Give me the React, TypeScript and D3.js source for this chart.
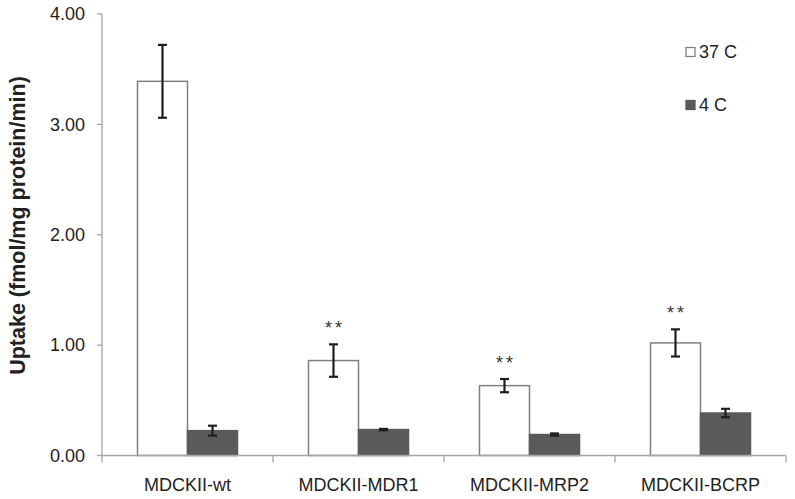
import React from "react";
import * as d3 from "d3";

const categories = ["MDCKII-wt", "MDCKII-MDR1", "MDCKII-MRP2", "MDCKII-BCRP"];
const seriesNames = ["37 C", "4 C"];
const values37 = [3.39, 0.86, 0.633, 1.02];
const errors37 = [0.33, 0.147, 0.06, 0.123];
const values4 = [0.225, 0.235, 0.19, 0.385];
const errors4 = [0.045, 0.006, 0.01, 0.038];
const significance = ["", "**", "**", "**"];
const yTicks = [0, 1, 2, 3, 4];
const yTitle = "Uptake (fmol/mg protein/min)";

const W = 795;
const H = 499;
const left = 102;
const right = 786;
const top = 14;
const bottom = 455.5;

const font = "'Liberation Sans', Arial, sans-serif";

export default function App() {
  const x = d3.scaleBand<string>().domain(categories).range([left, right]).paddingInner(0).paddingOuter(0);
  const xs = d3.scaleBand<string>().domain(seriesNames).range([0, x.bandwidth()]).paddingInner(0).paddingOuter(0.71);
  const y = d3.scaleLinear().domain([0, 4]).range([bottom, top]);
  const fmt = d3.format(".2f");

  const series = [
    { name: seriesNames[0], vals: values37, errs: errors37, fill: "#ffffff", stroke: "#808080" },
    { name: seriesNames[1], vals: values4, errs: errors4, fill: "#5a5a5a", stroke: "#5a5a5a" },
  ];

  const boundaries = [...categories.map((c) => x(c) as number), right];
  const axisColor = "#a6a6a6";
  const capHalf = 4.5;

  return (
    <svg width={W} height={H} style={{ position: "absolute", left: 0, top: 0, background: "#fff" }} fontFamily={font}>
      <rect x={0} y={0} width={W} height={H} fill="#fff" />
      {/* y axis */}
      <line x1={left} x2={left} y1={y(4)} y2={bottom} stroke={axisColor} strokeWidth={1.3} />
      {yTicks.map((t) => (
        <g key={t}>
          <line x1={left - 5} x2={left} y1={y(t)} y2={y(t)} stroke={axisColor} strokeWidth={1.3} />
          <text x={85} y={y(t)} dy="0.35em" textAnchor="end" fontSize={18} fill="#222">
            {fmt(t)}
          </text>
        </g>
      ))}
      <text
        transform={`translate(24.5, ${225.5}) rotate(-90)`}
        textAnchor="middle"
        fontSize={21.5}
        fontWeight="bold"
        fill="#222"
      >
        {yTitle}
      </text>

      {/* bars */}
      {series.map((s) =>
        categories.map((c, i) => {
          const bx = (x(c) as number) + (xs(s.name) as number);
          const bw = xs.bandwidth();
          const v = s.vals[i];
          return (
            <rect
              key={s.name + c}
              x={bx}
              y={y(v)}
              width={bw}
              height={bottom - y(v)}
              fill={s.fill}
              stroke={s.stroke}
              strokeWidth={1.5}
            />
          );
        })
      )}

      {/* x axis */}
      <line x1={left} x2={right} y1={bottom} y2={bottom} stroke={axisColor} strokeWidth={1.5} />
      {boundaries.map((b, i) => (
        <line key={i} x1={b} x2={b} y1={bottom} y2={bottom + 7} stroke={axisColor} strokeWidth={1.3} />
      ))}
      {categories.map((c) => (
        <text key={c} x={(x(c) as number) + x.bandwidth() / 2} y={491} textAnchor="middle" fontSize={18} fill="#222">
          {c}
        </text>
      ))}

      {/* error bars */}
      {series.map((s) =>
        categories.map((c, i) => {
          const cx = (x(c) as number) + (xs(s.name) as number) + xs.bandwidth() / 2;
          const v = s.vals[i];
          const e = s.errs[i];
          const y1 = y(v + e);
          const y2 = y(v - e);
          return (
            <g key={"e" + s.name + c} stroke="#1e1e1e" strokeWidth={2.2}>
              <line x1={cx} x2={cx} y1={y1} y2={y2} />
              <line x1={cx - capHalf} x2={cx + capHalf} y1={y1} y2={y1} />
              <line x1={cx - capHalf} x2={cx + capHalf} y1={y2} y2={y2} />
            </g>
          );
        })
      )}

      {/* significance */}
      {categories.map((c, i) => {
        if (!significance[i]) return null;
        const cx = (x(c) as number) + (xs(seriesNames[0]) as number) + xs.bandwidth() / 2;
        return (
          <text
            key={"s" + c}
            x={cx + 1.5}
            y={y(values37[i] + errors37[i]) - 10}
            textAnchor="middle"
            fontSize={18}
            letterSpacing={3}
            fill="#333"
          >
            {significance[i]}
          </text>
        );
      })}

      {/* legend */}
      {series.map((s, i) => {
        const ly = [52, 105][i];
        return (
          <g key={"l" + s.name}>
            <rect x={686} y={ly - 4.5} width={9} height={9} fill={s.fill} stroke={s.stroke} strokeWidth={1.3} />
            <text x={699} y={ly} dy="0.35em" fontSize={18} fill="#222">
              {s.name}
            </text>
          </g>
        );
      })}
    </svg>
  );
}
